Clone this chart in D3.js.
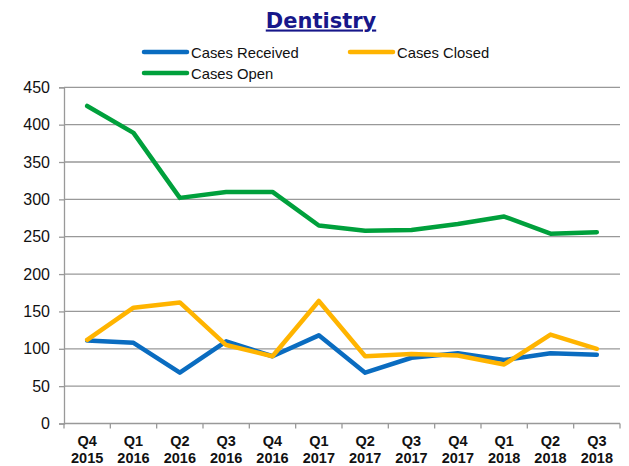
<!DOCTYPE html>
<html><head><meta charset="utf-8">
<script src="https://cdn.jsdelivr.net/npm/d3@7/dist/d3.min.js"></script>
<style>body{margin:0;background:#fff}</style>
</head><body><svg id="c" width="629" height="466"></svg>
<script>
const categories = ["Q4 2015","Q1 2016","Q2 2016","Q3 2016","Q4 2016","Q1 2017","Q2 2017","Q3 2017","Q4 2017","Q1 2018","Q2 2018","Q3 2018"];
const casesReceived = [111,108,68,110,90,118,68,88,94,85,94,92];
const casesClosed = [112,155,162,105,90,164,90,93,91,79,119,100];
const casesOpen = [425,389,302,310,310,265,258,259,267,277,254,256];
const yTicks = [0,50,100,150,200,250,300,350,400,450];
const seriesNames = ["Cases Received","Cases Closed","Cases Open"];
const colors = ["#0A6CC0","#FFB400","#00A03C"];

(function(){
const svg = d3.select("#c");
const pLeft=64, pRight=620, pTop=87.3, pBottom=423.5;
const x = d3.scaleBand().domain(categories).range([pLeft,pRight]);
const y = d3.scaleLinear().domain([0,450]).range([pBottom,pTop]);

// gridlines
svg.append("g").selectAll("line").data(yTicks.filter(d=>d>0)).join("line")
  .attr("x1",pLeft).attr("x2",pRight).attr("y1",d=>y(d)).attr("y2",d=>y(d))
  .attr("stroke","#999").attr("stroke-width",1.3);

// y axis
const ya = svg.append("g").attr("transform",`translate(${pLeft},0)`)
  .call(d3.axisLeft(y).tickValues(yTicks).tickSize(5).tickPadding(9));
ya.select(".domain").attr("stroke","#999").attr("stroke-width",1.3);
ya.selectAll(".tick line").attr("stroke","#999").attr("stroke-width",1.3);
ya.selectAll("text").attr("font-family","Liberation Sans, Arial").attr("font-size",16).attr("fill","#111");

// x axis
const xa = svg.append("g").attr("transform",`translate(0,${pBottom})`);
xa.append("line").attr("x1",pLeft).attr("x2",pRight).attr("stroke","#999").attr("stroke-width",1.3);
xa.selectAll("line.t").data(categories.concat(["end"])).join("line").attr("class","t")
  .attr("x1",(d,i)=>pLeft+i*x.bandwidth()).attr("x2",(d,i)=>pLeft+i*x.bandwidth())
  .attr("y1",0).attr("y2",5).attr("stroke","#999").attr("stroke-width",1.3);
const xt = xa.selectAll("text").data(categories).join("text")
  .attr("x",d=>x(d)+x.bandwidth()/2).attr("text-anchor","middle")
  .attr("font-family","Liberation Sans, Arial").attr("font-weight","bold").attr("font-size",14.5).attr("fill","#111");
xt.append("tspan").attr("x",d=>x(d)+x.bandwidth()/2).attr("y",22.5).text(d=>d.split(" ")[0]);
xt.append("tspan").attr("x",d=>x(d)+x.bandwidth()/2).attr("y",39).text(d=>d.split(" ")[1]);

// lines
const line = d3.line().x((d,i)=>x(categories[i])+x.bandwidth()/2).y(d=>y(d));
[casesReceived,casesClosed,casesOpen].forEach((s,k)=>{
  svg.append("path").datum(s).attr("d",line).attr("fill","none")
    .attr("stroke",colors[k]).attr("stroke-width",4.5).attr("stroke-linejoin","round").attr("stroke-linecap","round");
});

// legend
const legPos = [[143,52],[349,52],[143,73]];
seriesNames.forEach((n,k)=>{
  const [lx,ly]=legPos[k];
  svg.append("line").attr("x1",lx+1).attr("x2",lx+44).attr("y1",ly).attr("y2",ly)
    .attr("stroke",colors[k]).attr("stroke-width",4.5).attr("stroke-linecap","round");
  svg.append("text").attr("x",lx+48).attr("y",ly+5.5).text(n)
    .attr("font-family","Liberation Sans, Arial").attr("font-size",14.8).attr("fill","#111");
});

// title
svg.append("text").attr("x",321).attr("y",27.5).attr("text-anchor","middle").text("Dentistry")
  .attr("font-family","DejaVu Sans").attr("font-weight","bold").attr("font-size",21)
  .attr("fill","#17178A").attr("text-decoration","underline");
})();
</script></body></html>
